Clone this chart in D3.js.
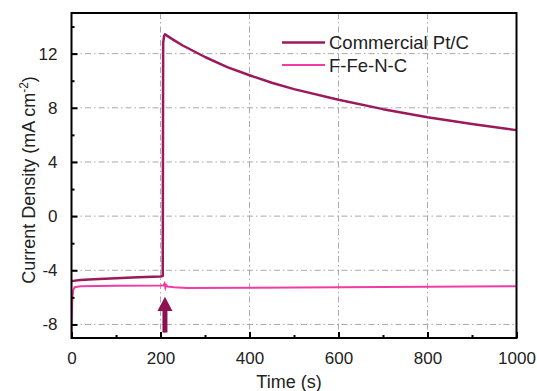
<!DOCTYPE html>
<html><head><meta charset="utf-8">
<script src="https://cdn.jsdelivr.net/npm/d3@7"></script>
<style>body{margin:0;background:#fff}svg{display:block}text{font-family:"Liberation Sans",Arial,sans-serif}</style>
</head><body><svg id="c" width="537" height="391"></svg>
<script>
const seriesNames = ["Commercial Pt/C", "F-Fe-N-C"];
const ptTime = [0, 20, 50, 100, 150, 200, 205, 206, 208, 210, 230, 250, 300, 350, 400, 450, 500, 600, 700, 800, 900, 1000];
const ptValue = [-4.8, -4.72, -4.66, -4.58, -4.51, -4.45, -4.43, 12.8, 13.3, 13.42, 13.0, 12.6, 11.75, 11.0, 10.4, 9.85, 9.38, 8.6, 7.9, 7.3, 6.8, 6.35];
const feTime = [0, 1, 2, 4, 7, 20, 100, 200, 207, 209, 211, 213, 216, 230, 260, 400, 600, 800, 1000];
const feValue = [-9, -7.2, -6.0, -5.45, -5.25, -5.18, -5.14, -5.12, -5.1, -4.98, -5.28, -5.08, -5.2, -5.26, -5.3, -5.29, -5.26, -5.22, -5.17];
const xTicks = [0, 200, 400, 600, 800, 1000];
const yTicks = [-8, -4, 0, 4, 8, 12];
const xMinor = [100, 300, 500, 700, 900];
const yMinor = [-6, -2, 2, 6, 10, 14];
const arrowTime = 210;
const colors = ["#9c1a5c", "#f03ca6"];

const svg = d3.select("#c");
const m = {l: 71.5, r: 516.5, t: 13, b: 338};
const x = d3.scaleLinear().domain([0, 1000]).range([m.l, m.r]);
const y = d3.scaleLinear().domain([-9, 15]).range([m.b, m.t]);

// grid
const grid = svg.append("g").attr("stroke", "#aaaaaa").attr("stroke-width", 1).attr("stroke-dasharray", "6,3,1.5,3");
grid.selectAll(".gx").data(xTicks.filter(d => d > 0 && d < 1000)).enter().append("line")
  .attr("x1", d => x(d)).attr("x2", d => x(d)).attr("y1", m.t).attr("y2", m.b);
grid.selectAll(".gy").data(yTicks).enter().append("line")
  .attr("y1", d => y(d)).attr("y2", d => y(d)).attr("x1", m.l).attr("x2", m.r);

// lines
const line = d3.line().x(d => x(d[0])).y(d => y(d[1]));
svg.append("clipPath").attr("id", "clp").append("rect")
  .attr("x", m.l).attr("y", m.t).attr("width", m.r - m.l).attr("height", m.b - m.t);
const feData = feTime.map((t, i) => [t, feValue[i]]);
const ptData = ptTime.map((t, i) => [t, ptValue[i]]);
svg.append("path").datum(feData).attr("d", line).attr("fill", "none").attr("stroke", colors[1]).attr("stroke-width", 2).attr("clip-path", "url(#clp)");
svg.append("path").datum(ptData).attr("d", line).attr("fill", "none").attr("stroke", colors[0]).attr("stroke-width", 2.5).attr("stroke-linejoin", "round").attr("clip-path", "url(#clp)");

// arrow
const ax = x(arrowTime);
svg.append("line").attr("x1", ax).attr("x2", ax).attr("y1", y(-8.6)).attr("y2", y(-6.6)).attr("stroke", "#8e1050").attr("stroke-width", 5);
svg.append("path").attr("d", `M${ax - 7.5},${y(-7.0)} L${ax},${y(-5.95)} L${ax + 7.5},${y(-7.0)} Z`).attr("fill", "#8e1050");

// axes
const fmt = d => String(d);
const xAxB = svg.append("g").attr("transform", `translate(0,${m.b})`)
  .call(d3.axisBottom(x).tickValues(xTicks).tickSize(-6).tickPadding(14).tickFormat(fmt));
const xAxMinor = svg.append("g").attr("transform", `translate(0,${m.b})`)
  .call(d3.axisBottom(x).tickValues(xMinor).tickSize(-3).tickFormat(""));
const yAxL = svg.append("g").attr("transform", `translate(${m.l},0)`)
  .call(d3.axisLeft(y).tickValues(yTicks).tickSize(-6).tickPadding(14).tickFormat(fmt));
const yAxMinor = svg.append("g").attr("transform", `translate(${m.l},0)`)
  .call(d3.axisLeft(y).tickValues(yMinor).tickSize(-3).tickFormat(""));
[xAxB, xAxMinor, yAxL, yAxMinor].forEach(g => {
  g.select(".domain").remove();
  g.selectAll(".tick line").attr("stroke", "#000").attr("stroke-width", 2);
  g.selectAll("text").attr("font-size", 17).attr("fill", "#222").attr("font-family", "Liberation Sans, Arial, sans-serif");
});
xAxB.selectAll("text").attr("dy", "0.71em");
svg.append("rect").attr("x", m.l).attr("y", m.t).attr("width", m.r - m.l).attr("height", m.b - m.t)
  .attr("fill", "none").attr("stroke", "#000").attr("stroke-width", 2);

// titles
svg.append("text").attr("x", 289).attr("y", 388).attr("text-anchor", "middle").attr("font-size", 18).attr("fill", "#222").text("Time (s)");
const yt = svg.append("text").attr("transform", "translate(35,180) rotate(-90)").attr("text-anchor", "middle").attr("font-size", 18).attr("fill", "#222");
yt.append("tspan").text("Current Density (mA cm");
yt.append("tspan").attr("dy", -7).attr("font-size", 12).text("-2");
yt.append("tspan").attr("dy", 7).text(")");

// legend
const lg = svg.append("g");
seriesNames.forEach((n, i) => {
  const ly = 42.5 + i * 22.5;
  lg.append("line").attr("x1", 282).attr("x2", 325).attr("y1", ly).attr("y2", ly).attr("stroke", colors[i]).attr("stroke-width", i === 0 ? 2.5 : 2);
  lg.append("text").attr("x", 329).attr("y", ly + 6.5).attr("font-size", 18.5).attr("fill", "#222").text(n);
});
</script></body></html>
